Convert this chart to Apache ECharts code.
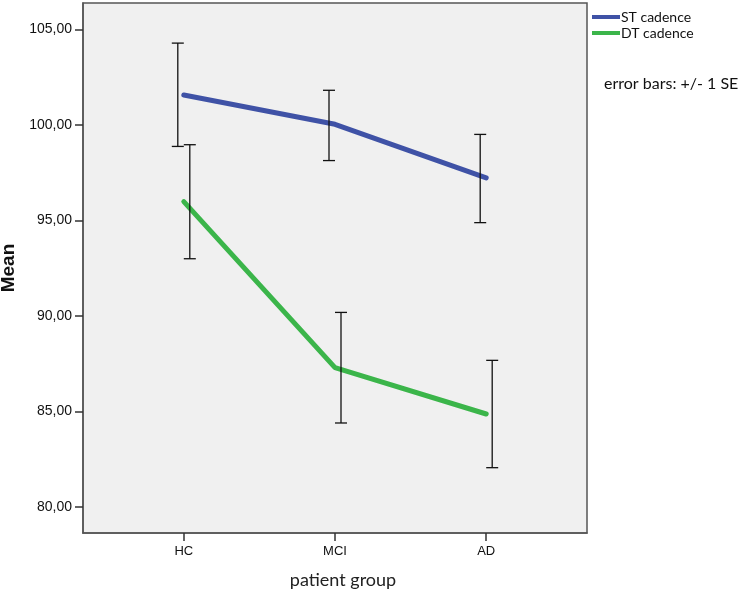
<!DOCTYPE html>
<html>
<head>
<meta charset="utf-8">
<script src="https://cdn.jsdelivr.net/npm/echarts@6/dist/echarts.min.js"></script>
<style>
html,body{margin:0;padding:0;background:#fff;}
#chart{width:750px;height:590px;}
</style>
</head>
<body>
<div id="chart"></div>
<script>
var categories = ['HC', 'MCI', 'AD'];
var yTicks = [80, 85, 90, 95, 100, 105];
var stMean = [101.57, 100.04, 97.23];
var stLow  = [98.88, 98.14, 94.89];
var stHigh = [104.29, 101.82, 99.51];
var dtMean = [95.99, 87.30, 84.87];
var dtLow  = [93.00, 84.40, 82.06];
var dtHigh = [98.97, 90.19, 87.68];
var seriesNames = ['ST cadence', 'DT cadence'];

var chart = echarts.init(document.getElementById('chart'), null, {renderer: 'canvas'});

function pts(vals) { return vals.map(function (v, i) { return [i + 1, v]; }); }
function bars(low, high) { return low.map(function (l, i) { return [i + 1, l, high[i]]; }); }

function errRender(dx) {
  return function (params, api) {
    var x = api.value(0);
    var a = api.coord([x, api.value(1)]);
    var b = api.coord([x, api.value(2)]);
    var cx = a[0] + dx;
    var hw = 6;
    var st = {stroke: '#111', lineWidth: 1.3};
    return {
      type: 'group',
      children: [
        {type: 'line', shape: {x1: cx, y1: a[1], x2: cx, y2: b[1]}, style: st},
        {type: 'line', shape: {x1: cx - hw, y1: a[1], x2: cx + hw, y2: a[1]}, style: st},
        {type: 'line', shape: {x1: cx - hw, y1: b[1], x2: cx + hw, y2: b[1]}, style: st}
      ]
    };
  };
}

var option = {
  animation: false,
  backgroundColor: '#ffffff',
  grid: {
    left: 83, top: 3, right: 163, bottom: 57,
    outerBoundsMode: 'none', containLabel: false,
    show: true, backgroundColor: '#f0f0f0', borderColor: '#555', borderWidth: 1.5
  },
  legend: {
    orient: 'vertical', left: 587, top: 4, itemGap: 0,
    itemWidth: 28, itemHeight: 4, icon: 'rect',
    data: seriesNames,
    textStyle: {fontFamily: 'Lato', fontSize: 14, color: '#111', lineHeight: 16, padding: [0, 0, 0, -4]}
  },
  xAxis: {
    type: 'value', min: 1 / 3, max: 11 / 3,
    splitLine: {show: false},
    axisLine: {show: true, onZero: false, lineStyle: {color: '#555', width: 1.5}},
    axisTick: {show: true, length: 8, customValues: [1, 2, 3], lineStyle: {color: '#333', width: 1.5}},
    axisLabel: {
      customValues: [1, 2, 3], margin: 12,
      fontFamily: 'Liberation Sans', fontSize: 13, color: '#111',
      formatter: function (v) { return categories[Math.round(v) - 1] || ''; }
    },
    name: 'patient group', nameLocation: 'middle', nameGap: 38,
    nameTextStyle: {fontFamily: 'Lato', fontSize: 18, color: '#222', padding: [0, 0, 0, 16]}
  },
  yAxis: {
    type: 'value', min: 78.64, max: 106.39,
    splitLine: {show: false},
    axisLine: {show: true, onZero: false, lineStyle: {color: '#555', width: 1.5}},
    axisTick: {show: true, length: 8, customValues: yTicks, lineStyle: {color: '#333', width: 1.5}},
    axisLabel: {
      customValues: yTicks, margin: 11,
      fontFamily: 'Liberation Sans', fontSize: 14, color: '#111',
      formatter: function (v) { return v.toFixed(2).replace('.', ','); }
    },
    name: 'Mean', nameLocation: 'middle', nameGap: 58,
    nameTextStyle: {fontFamily: 'Liberation Sans', fontSize: 19, fontWeight: 'bold', color: '#111'}
  },
  graphic: [{
    type: 'text', left: 604, top: 76,
    style: {text: 'error bars: +/- 1 SE', fontFamily: 'Lato', fontSize: 16, fill: '#111'}
  }],
  series: [
    {
      name: seriesNames[0], type: 'line', data: pts(stMean), showSymbol: false, symbol: 'none',
      color: '#3f52a6', lineStyle: {width: 5, color: '#3f52a6', cap: 'round'}, z: 2
    },
    {
      name: seriesNames[1], type: 'line', data: pts(dtMean), showSymbol: false, symbol: 'none',
      color: '#3bb54a', lineStyle: {width: 5, color: '#3bb54a', cap: 'round'}, z: 2
    },
    {type: 'custom', data: bars(stLow, stHigh), renderItem: errRender(-6), z: 5, silent: true},
    {type: 'custom', data: bars(dtLow, dtHigh), renderItem: errRender(6), z: 5, silent: true}
  ]
};
chart.setOption(option);
</script>
</body>
</html>
